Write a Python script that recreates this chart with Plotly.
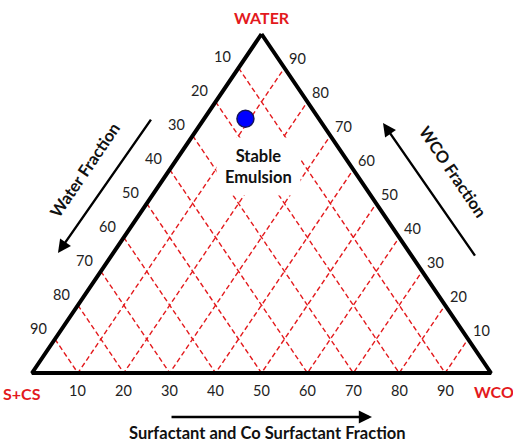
import plotly.graph_objects as go

# Ternary composition grid (percent), vertex names and the measured point
tick_values = [10, 20, 30, 40, 50, 60, 70, 80, 90]
vertex_names = ["WATER", "S+CS", "WCO"]
point_water = [75]
point_scs = [16]
point_wco = [9]
region_label = "Stable<br>Emulsion"

RED = "#e3191c"
FONT = "Lato"


def to_xy(water, scs, wco):
    """Map a water / S+CS / WCO composition onto the triangle plane."""
    total = water + scs + wco
    a = water / total
    c = wco / total
    return c + a / 2.0, a


fig = go.Figure()

# Dashed grid: lines of constant WCO and constant S+CS
gx, gy = [], []
for t in tick_values:
    x0, y0 = to_xy(0, 100 - t, t)
    x1, y1 = to_xy(100 - t, 0, t)
    x2, y2 = to_xy(t, 100 - t, 0)
    gx += [x2, x0, x1, None]
    gy += [y2, y0, y1, None]
fig.add_trace(go.Scatter(x=gx, y=gy, mode="lines",
                         line=dict(color=RED, width=1.4, dash="5px,3px"),
                         hoverinfo="skip", showlegend=False))

# Triangle outline
corners = [to_xy(100, 0, 0), to_xy(0, 100, 0), to_xy(0, 0, 100), to_xy(100, 0, 0)]
fig.add_trace(go.Scatter(x=[p[0] for p in corners], y=[p[1] for p in corners],
                         mode="lines", line=dict(color="black", width=4),
                         hoverinfo="skip", showlegend=False))

# Measured composition
px, py = zip(*[to_xy(w, s, o) for w, s, o in zip(point_water, point_scs, point_wco)])
fig.add_trace(go.Scatter(x=list(px), y=list(py), mode="markers",
                         marker=dict(size=17, color="#0000ff",
                                     line=dict(color="#14145a", width=1.5)),
                         showlegend=False))

ann = []
tick_font = dict(family=FONT, size=14.5, color="#222222")
for t in tick_values:
    # bottom edge
    bx, by = to_xy(0, 100 - t, t)
    ann.append(dict(x=bx, y=by, text=str(t), showarrow=False, font=tick_font,
                    yshift=-17))
    # left edge
    lx, ly = to_xy(t, 100 - t, 0)
    ann.append(dict(x=lx, y=ly, text=str(100 - t), showarrow=False, font=tick_font,
                    xshift=-16, yshift=11))
    # right edge
    rx, ry = to_xy(t, 0, 100 - t)
    ann.append(dict(x=rx, y=ry, text=str(t), showarrow=False, font=tick_font,
                    xshift=13, yshift=9))

bold_red = dict(family=FONT, size=16, color=RED, weight="bold")
tx, ty = to_xy(100, 0, 0)
ann.append(dict(x=tx, y=ty, text=vertex_names[0], showarrow=False, font=bold_red,
                yshift=17))
lx, ly = to_xy(0, 100, 0)
ann.append(dict(x=lx, y=ly, text=vertex_names[1], showarrow=False, font=bold_red,
                xshift=-10, yshift=-20))
rx, ry = to_xy(0, 0, 100)
ann.append(dict(x=rx, y=ry, text=vertex_names[2], showarrow=False, font=bold_red,
                xshift=3, yshift=-18))

bold_black = dict(family=FONT, size=16.5, color="#111111", weight="bold")
ann.append(dict(x=0.4924, y=0.6077, text=region_label, showarrow=False,
                font=bold_black, bgcolor="white", borderpad=8))

# Axis direction arrows and titles
arrow = dict(showarrow=True, text="", axref="x", ayref="y", arrowhead=2,
             arrowsize=1.1, arrowwidth=2.4, arrowcolor="black")
ann.append(dict(arrow, x=0.0566, y=0.354, ax=0.2614, ay=0.752))
ann.append(dict(arrow, x=0.7647, y=0.7375, ax=0.9673, ay=0.342))
ann.append(dict(arrow, x=0.7407, y=-0.1298, ax=0.3007, ay=-0.1298))
ann.append(dict(x=0.1155, y=0.599, text="Water Fraction", showarrow=False,
                font=bold_black, textangle=-55.8))
ann.append(dict(x=0.917, y=0.593, text="WCO Fraction", showarrow=False,
                font=bold_black, textangle=55.8))
ann.append(dict(x=0.514, y=-0.177, text="Surfactant and Co Surfactant Fraction",
                showarrow=False, font=bold_black))

fig.update_layout(
    width=513, height=443,
    margin=dict(l=0, r=0, t=0, b=0),
    paper_bgcolor="white", plot_bgcolor="white",
    xaxis=dict(visible=False, range=[-0.0697, 1.0479], fixedrange=True),
    yaxis=dict(visible=False, range=[-0.2065, 1.1003], fixedrange=True),
    annotations=ann,
    showlegend=False,
)

fig.write_html("out.html")
